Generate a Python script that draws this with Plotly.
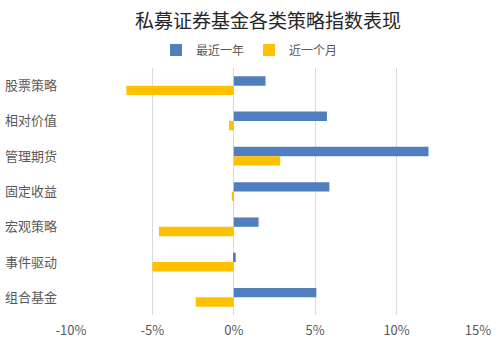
import plotly.graph_objects as go

categories = ["股票策略", "相对价值", "管理期货", "固定收益", "宏观策略", "事件驱动", "组合基金"]
last_year = [1.95, 5.72, 11.96, 5.87, 1.52, 0.12, 5.07]
last_month = [-6.6, -0.29, 2.85, -0.12, -4.6, -5.0, -2.34]
tick_vals = [-10, -5, 0, 5, 10, 15]
tick_text = ["-10%", "-5%", "0%", "5%", "10%", "15%"]

FONT = "Noto Sans CJK SC, Microsoft YaHei, sans-serif"

fig = go.Figure()
fig.add_trace(go.Bar(y=categories, x=last_year, orientation="h", name="最近一年",
                     marker=dict(color="#4f7fbf", line=dict(width=0))))
fig.add_trace(go.Bar(y=categories, x=last_month, orientation="h", name="近一个月",
                     marker=dict(color="#ffc000", line=dict(width=0))))

fig.update_layout(
    width=499, height=341,
    margin=dict(l=71, r=21, t=68, b=26, autoexpand=False),
    paper_bgcolor="white", plot_bgcolor="white",
    barmode="group", bargap=0.47, bargroupgap=0,
    font=dict(family=FONT, color="#595959", size=12),
    title=dict(text="私募证券基金各类策略指数表现", x=0.537, xref="container", xanchor="center",
               y=1 - 21 / 341, yref="container", yanchor="middle",
               font=dict(family=FONT, size=19, color="#262626")),
    legend=dict(orientation="h", x=0.5, xref="container", xanchor="center",
                y=1 - 50 / 341, yref="container", yanchor="middle",
                font=dict(family=FONT, size=12, color="#595959"),
                itemwidth=30, tracegroupgap=0, itemclick=False),
    showlegend=True,
    hovermode=False,
)
fig.update_xaxes(range=[-10, 15], tickvals=tick_vals, ticktext=tick_text,
                 showgrid=True, gridcolor="#d9d9d9", gridwidth=1,
                 zeroline=True, zerolinecolor="#d9d9d9", zerolinewidth=1,
                 showline=False, ticks="", tickfont=dict(size=13, color="#595959"),
                 ticklabelstandoff=6, fixedrange=True)
fig.update_yaxes(autorange="reversed", showgrid=False, showline=False, ticks="",
                 tickfont=dict(size=13, color="#595959"), ticklabelstandoff=13,
                 fixedrange=True)

fig.write_html("out.html", config={"displayModeBar": False})
